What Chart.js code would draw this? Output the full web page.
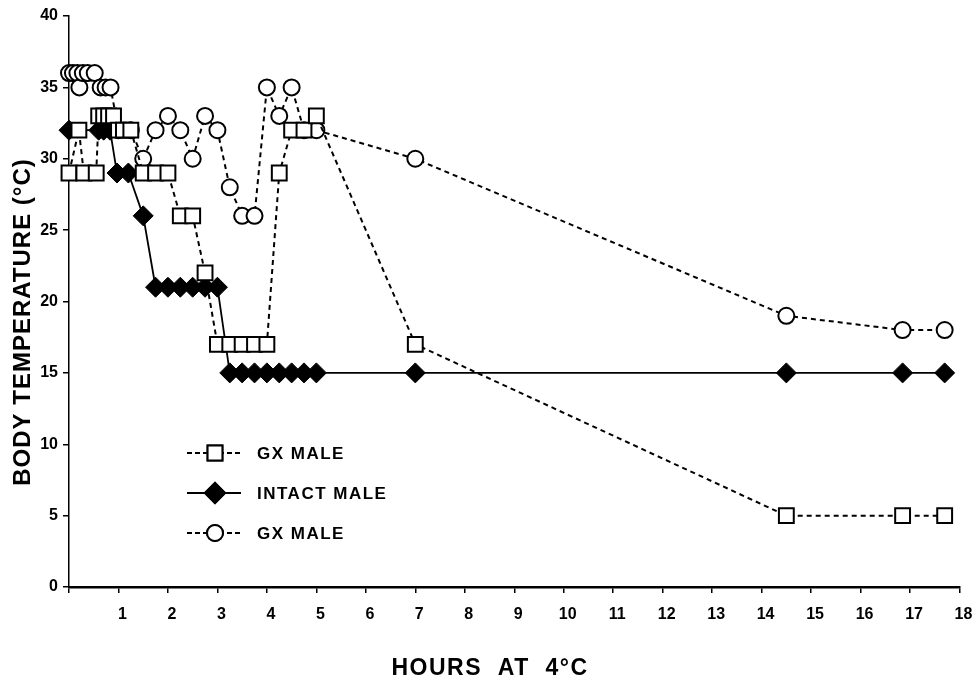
<!DOCTYPE html>
<html>
<head>
<meta charset="utf-8">
<script src="https://cdn.jsdelivr.net/npm/chart.js@4/dist/chart.umd.min.js"></script>
<style>
  html, body { margin: 0; padding: 0; background: #fff; }
  #wrap { width: 972px; height: 684px; }
</style>
</head>
<body>
<div id="wrap"><canvas id="tempChart" width="972" height="684"></canvas></div>
<script>
// Hours at 4°C and body temperature readings
const gxSquareHours = [0, 0.2, 0.3, 0.55, 0.6, 0.7, 0.8, 0.9, 1.0, 1.1, 1.25, 1.5, 1.75, 2.0, 2.25, 2.5, 2.75,
    3.0, 3.25, 3.5, 3.75, 4.0, 4.25, 4.5, 4.75, 5.0, 7.0, 14.5, 16.85, 17.7];
const gxSquareTemp = [29, 32, 29, 29, 33, 33, 33, 33, 32, 32, 32, 29, 29, 29, 26, 26, 22,
    17, 17, 17, 17, 17, 29, 32, 32, 33, 17, 5, 5, 5];

const intactHours = [0, 0.6, 0.7, 0.83, 0.97, 1.2, 1.5, 1.75, 2.0, 2.25, 2.5, 2.75, 3.0,
    3.25, 3.5, 3.75, 4.0, 4.25, 4.5, 4.75, 5.0, 7.0, 14.5, 16.85, 17.7];
const intactTemp = [32, 32, 32, 32, 29, 29, 26, 21, 21, 21, 21, 21, 21,
    15, 15, 15, 15, 15, 15, 15, 15, 15, 15, 15, 15];

const gxCircleHours = [0, 0.08, 0.17, 0.21, 0.28, 0.38, 0.52, 0.64, 0.74, 0.84, 1.0, 1.25, 1.5, 1.75, 2.0,
    2.25, 2.5, 2.75, 3.0, 3.25, 3.5, 3.75, 4.0, 4.25, 4.5, 4.75, 5.0, 7.0, 14.5, 16.85, 17.7];
const gxCircleTemp = [36, 36, 36, 35, 36, 36, 36, 35, 35, 35, 32, 32, 30, 32, 33,
    32, 30, 33, 32, 28, 26, 26, 35, 33, 35, 32, 32, 30, 19, 18, 18];

const seriesNames = ['GX MALE', 'INTACT MALE', 'GX MALE'];
const xTicks = [0, 18, 1];   // min, max, step
const yTicks = [0, 40, 5];

const FONT = "'Liberation Sans', Arial, Helvetica, sans-serif";

function toPoints(xs, ys) {
    return xs.map((x, i) => ({ x: x, y: ys[i] }));
}

// Legend and axis titles drawn straight onto the canvas
const annotations = {
    id: 'annotations',
    afterDraw(chart) {
        const ctx = chart.ctx;
        ctx.save();
        ctx.fillStyle = '#000';
        ctx.strokeStyle = '#000';

        // y axis title
        ctx.save();
        ctx.translate(23, 322);
        ctx.rotate(-Math.PI / 2);
        ctx.font = 'bold 24px ' + FONT;
        ctx.letterSpacing = '1px';
        ctx.textAlign = 'center';
        ctx.textBaseline = 'middle';
        ctx.fillText('BODY TEMPERATURE (°C)', 0, 0);
        ctx.restore();

        // x axis title
        ctx.save();
        ctx.font = 'bold 23px ' + FONT;
        ctx.letterSpacing = '1.5px';
        ctx.textAlign = 'center';
        ctx.textBaseline = 'middle';
        ctx.fillText('HOURS  AT  4°C', 490, 669);
        ctx.restore();

        // legend
        const rows = [
            { y: 453, dash: [5, 3], style: 'rect', fill: '#fff', r: 10.5 },
            { y: 493, dash: [], style: 'rectRot', fill: '#000', r: 10 },
            { y: 533, dash: [5, 3], style: 'circle', fill: '#fff', r: 8 }
        ];
        rows.forEach((row, i) => {
            ctx.save();
            ctx.lineWidth = 2;
            ctx.setLineDash(row.dash);
            ctx.beginPath();
            ctx.moveTo(187, row.y);
            ctx.lineTo(241, row.y);
            ctx.stroke();
            ctx.setLineDash([]);
            ctx.fillStyle = row.fill;
            Chart.helpers.drawPoint(ctx, { pointStyle: row.style, radius: row.r, borderWidth: 2 }, 215, row.y);
            ctx.fill();
            ctx.stroke();
            ctx.fillStyle = '#000';
            ctx.font = 'bold 17px ' + FONT;
            ctx.letterSpacing = '1.5px';
            ctx.textBaseline = 'middle';
            ctx.fillText(seriesNames[i], 257, row.y + 1);
            ctx.restore();
        });
        ctx.restore();
    }
};

new Chart(document.getElementById('tempChart'), {
    type: 'line',
    data: {
        datasets: [
            {
                label: seriesNames[0],
                data: toPoints(gxSquareHours, gxSquareTemp),
                borderColor: '#000',
                borderWidth: 2,
                borderDash: [5, 4],
                pointStyle: 'rect',
                pointRadius: 10.5,
                pointBorderWidth: 2,
                pointBackgroundColor: '#fff',
                pointBorderColor: '#000',
                clip: false
            },
            {
                label: seriesNames[1],
                data: toPoints(intactHours, intactTemp),
                borderColor: '#000',
                borderWidth: 1.8,
                pointStyle: 'rectRot',
                pointRadius: 10,
                pointBorderWidth: 1,
                pointBackgroundColor: '#000',
                pointBorderColor: '#000',
                clip: false
            },
            {
                label: seriesNames[2],
                data: toPoints(gxCircleHours, gxCircleTemp),
                borderColor: '#000',
                borderWidth: 2,
                borderDash: [5, 4],
                pointStyle: 'circle',
                pointRadius: 8,
                pointBorderWidth: 2,
                pointBackgroundColor: '#fff',
                pointBorderColor: '#000',
                clip: false
            }
        ]
    },
    options: {
        responsive: false,
        animation: false,
        devicePixelRatio: 1,
        layout: { padding: { top: 16, right: 0, bottom: 0, left: 0 } },
        plugins: {
            legend: { display: false },
            tooltip: { enabled: false }
        },
        scales: {
            x: {
                type: 'linear',
                min: xTicks[0],
                max: xTicks[1],
                afterFit: scale => {
                    scale.height = 97;
                    scale.paddingLeft = 0;
                    scale.paddingRight = 12;
                },
                ticks: {
                    stepSize: xTicks[2],
                    autoSkip: false,
                    maxRotation: 0,
                    padding: 12,
                    labelOffset: 4,
                    color: '#000',
                    font: { family: FONT, size: 16, weight: 'bold' },
                    callback: v => (v === 0 ? '' : v)
                },
                grid: { drawOnChartArea: false, drawTicks: true, tickLength: 6, color: '#000', lineWidth: 1.5 },
                border: { display: true, color: '#000', width: 2.5 }
            },
            y: {
                min: yTicks[0],
                max: yTicks[1],
                afterFit: scale => { scale.width = 69; },
                ticks: {
                    stepSize: yTicks[2],
                    padding: 5,
                    color: '#000',
                    font: { family: FONT, size: 16, weight: 'bold' }
                },
                grid: { drawOnChartArea: false, drawTicks: true, tickLength: 6, color: '#000', lineWidth: 1.5 },
                border: { display: true, color: '#000', width: 1.5 }
            }
        }
    },
    plugins: [annotations]
});
</script>
</body>
</html>
